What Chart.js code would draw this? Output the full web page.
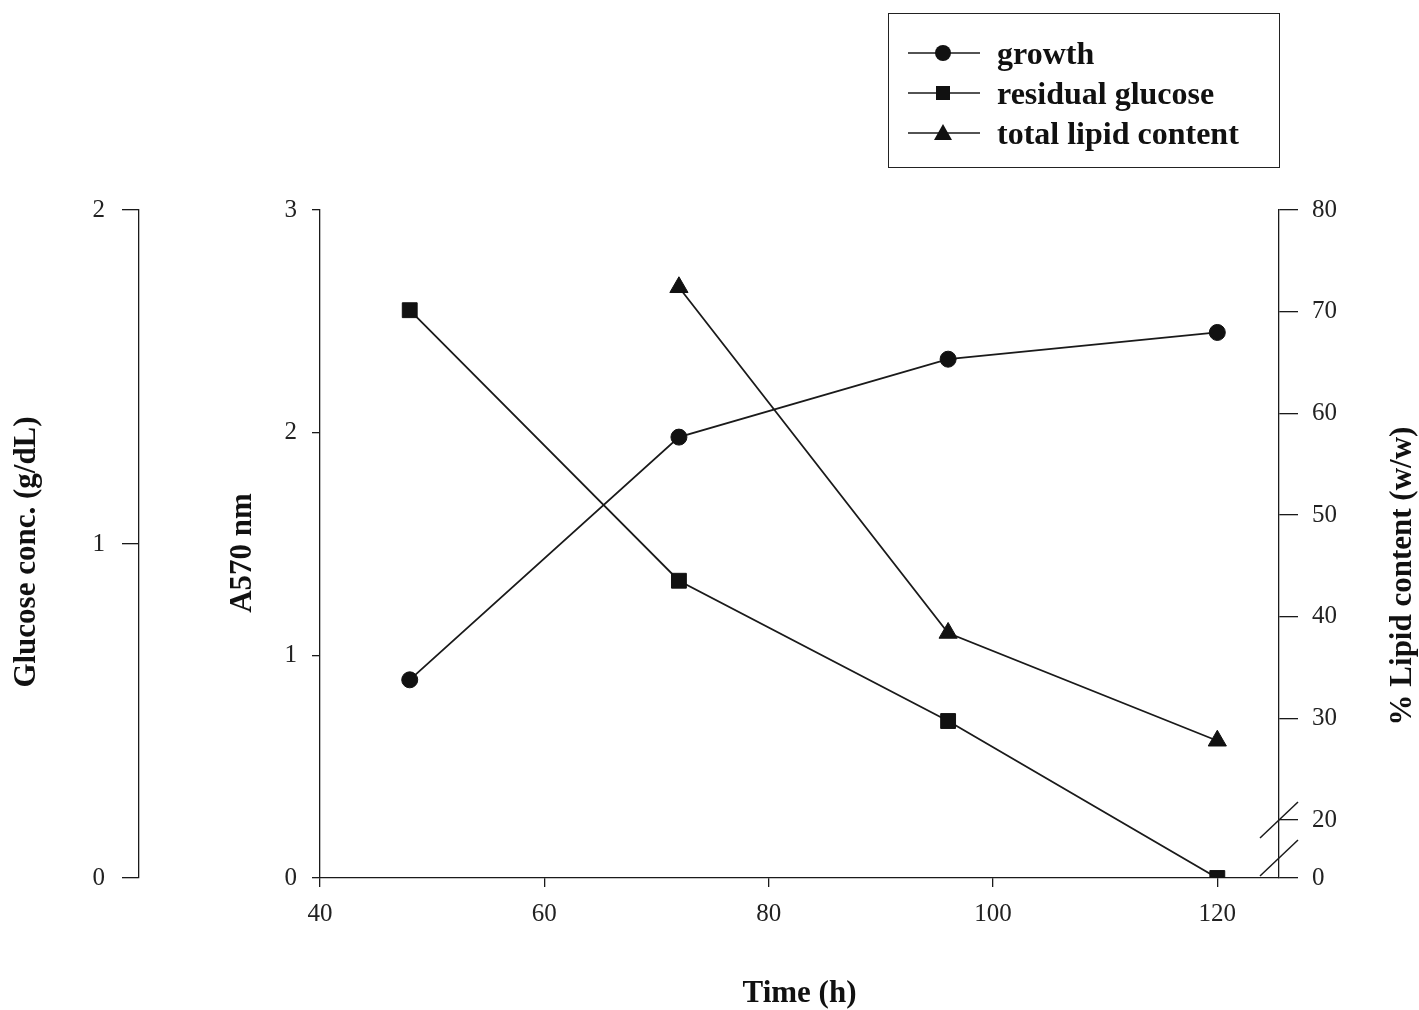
<!DOCTYPE html>
<html>
<head>
<meta charset="utf-8">
<script src="https://cdn.jsdelivr.net/npm/chart.js@4"></script>
<style>
  html, body { margin: 0; padding: 0; background: #fff; }
  #wrap { position: relative; width: 1419px; height: 1010px; }
  #legend {
    position: absolute; left: 888px; top: 13px; width: 392px; height: 155px;
    box-sizing: border-box; border: 1.5px solid #222; padding-top: 19px;
    font-family: 'Liberation Serif', 'Times New Roman', serif; font-weight: bold;
    font-size: 32px; color: #111;
  }
  .row { display: flex; align-items: center; height: 40px; line-height: 40px; }
  .row svg { margin-left: 19px; margin-right: 17px; }
</style>
</head>
<body>
<div id="wrap">
  <canvas id="grafico" width="1419" height="1010"></canvas>
  <div id="legend"></div>
</div>
<script>
// data
const hours = [48, 72, 96, 120];
const growth = [0.89, 1.98, 2.33, 2.45];        // A570 nm
const glucose = [1.70, 0.89, 0.47, 0.0];        // g/dL
const lipidHours = [72, 96, 120];
const lipid = [72.4, 38.4, 27.8];               // % w/w
const seriesNames = ['growth', 'residual glucose', 'total lipid content'];

const xTicks = [40, 60, 80, 100, 120];
const absTicks = [0, 1, 2, 3];
const glucoseTicks = [0, 1, 2];
const lipidTicks = [20, 30, 40, 50, 60, 70, 80];
const lipidAxisFloor = 14.3; // broken axis: bottom is labelled 0

const serif = "'Liberation Serif', 'Times New Roman', serif";
const ink = '#1a1a1a';

function pts(xs, ys) {
  return xs.map((x, i) => ({x: x, y: ys[i]}));
}

function setTicks(list) {
  return function(scale) {
    scale.ticks = list.map(v => ({value: v}));
  };
}

function fixSize(w, h) {
  return function(scale) {
    if (w) scale.width = w;
    if (h) scale.height = h;
    scale.paddingTop = 0; scale.paddingBottom = 0;
    scale.paddingLeft = 0; scale.paddingRight = 0;
  };
}

const tickFont = {family: serif, size: 25};

// titles and the axis break
const extras = {
  id: 'extras',
  afterDraw(chart) {
    const ctx = chart.ctx;
    ctx.save();
    ctx.fillStyle = '#111';
    ctx.font = 'bold 31px ' + serif;
    ctx.textAlign = 'center';
    ctx.textBaseline = 'middle';
    [['Glucose conc. (g/dL)', 27, 552], ['A570 nm', 243, 553], ['% Lipid content (w/w)', 1403, 576]].forEach(t => {
      ctx.save();
      ctx.translate(t[1], t[2]);
      ctx.rotate(-Math.PI / 2);
      ctx.fillText(t[0], 0, 0);
      ctx.restore();
    });

    const yL = chart.scales.yL;
    const ax = yL.left;
    const y20 = yL.getPixelForValue(20);
    const y0 = yL.bottom - 20;
    ctx.strokeStyle = ink;
    ctx.lineWidth = 1.5;
    [y20, y0].forEach(y => {
      ctx.beginPath();
      ctx.moveTo(ax - 19, y + 18);
      ctx.lineTo(ax + 19, y - 18);
      ctx.stroke();
    });
    ctx.restore();
  }
};

const config = {
  type: 'line',
  data: {
    datasets: [
      {
        label: seriesNames[0],
        data: pts(hours, growth),
        yAxisID: 'yA',
        pointStyle: 'circle',
        pointRadius: 8
      },
      {
        label: seriesNames[1],
        data: pts(hours, glucose),
        yAxisID: 'yG',
        pointStyle: 'rect',
        pointRadius: 10.5
      },
      {
        label: seriesNames[2],
        data: pts(lipidHours, lipid),
        yAxisID: 'yL',
        pointStyle: 'triangle',
        pointRadius: 10.5
      }
    ]
  },
  options: {
    responsive: false,
    animation: false,
    layout: { padding: {top: 210, left: 0, right: 0, bottom: 0} },
    elements: {
      line: { borderColor: ink, borderWidth: 1.8, tension: 0, fill: false },
      point: { backgroundColor: '#111', borderColor: '#111', borderWidth: 1 }
    },
    plugins: {
      legend: { display: false },
      tooltip: { enabled: false }
    },
    scales: {
      x: {
        type: 'linear', position: 'bottom', min: 40, max: 125.5,
        afterBuildTicks: setTicks(xTicks),
        afterFit: fixSize(0, 132),
        grid: { drawOnChartArea: false, tickLength: 9, color: ink, lineWidth: 1.3 },
        border: { color: ink, width: 1.3 },
        ticks: { padding: 12, color: '#222', font: tickFont },
        title: { display: true, text: 'Time (h)', color: '#111',
                 font: {family: serif, size: 31, weight: 'bold'}, padding: {top: 0, bottom: -3} }
      },
      yG: {
        type: 'linear', position: 'left', weight: 2, min: 0, max: 2,
        afterBuildTicks: setTicks(glucoseTicks),
        afterFit: fixSize(139, 0),
        grid: { drawOnChartArea: false, tickLength: 17, color: ink, lineWidth: 1.3 },
        border: { color: ink, width: 1.3 },
        ticks: { padding: 17, color: '#222', font: tickFont }
      },
      yA: {
        type: 'linear', position: 'left', weight: 1, min: 0, max: 3,
        afterBuildTicks: setTicks(absTicks),
        afterFit: fixSize(181, 0),
        grid: { drawOnChartArea: false, tickLength: 8, color: ink, lineWidth: 1.3 },
        border: { color: ink, width: 1.3 },
        ticks: { padding: 15, color: '#222', font: tickFont }
      },
      yL: {
        type: 'linear', position: 'right', min: lipidAxisFloor, max: 80,
        afterBuildTicks: setTicks([lipidAxisFloor].concat(lipidTicks)),
        afterFit: fixSize(140, 0),
        grid: { drawOnChartArea: false, tickLength: 19, color: ink, lineWidth: 1.3 },
        border: { color: ink, width: 1.3 },
        ticks: { padding: 14, color: '#222', font: tickFont,
                 callback: v => (v === lipidAxisFloor ? '0' : v) }
      }
    }
  },
  plugins: [extras]
};

var meuGrafico = new Chart(document.getElementById('grafico'), config);

// legend: line with marker, then the name
const markers = [
  '<circle cx="35" cy="20" r="8" fill="#111"/>',
  '<rect x="28" y="13" width="14" height="14" fill="#111"/>',
  '<polygon points="35,11 44,27 26,27" fill="#111"/>'
];
const legendBox = document.getElementById('legend');
seriesNames.forEach(function(name, i) {
  const row = document.createElement('div');
  row.className = 'row';
  row.innerHTML = '<svg width="72" height="40"><line x1="0" y1="20" x2="72" y2="20" stroke="#1a1a1a" stroke-width="1.6"/>' +
    markers[i] + '</svg><span>' + name + '</span>';
  legendBox.appendChild(row);
});
</script>
</body>
</html>
